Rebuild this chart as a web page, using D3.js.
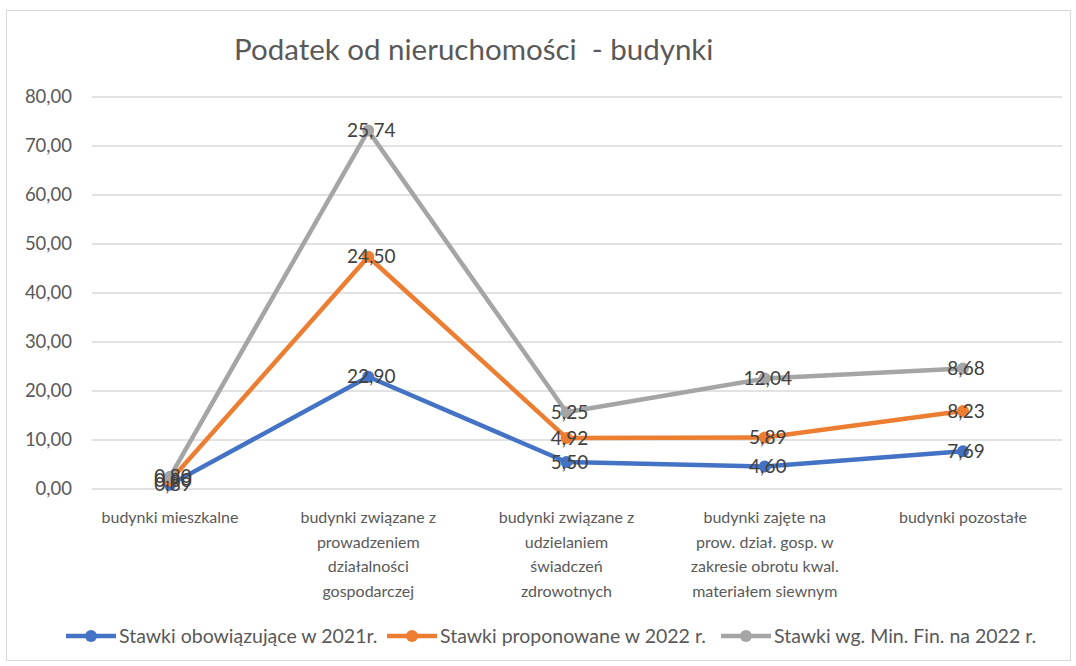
<!DOCTYPE html>
<html>
<head>
<meta charset="utf-8">
<script src="https://cdn.jsdelivr.net/npm/d3@7"></script>
<style>
  body { margin: 0; background: #fff; }
  svg { font-family: Lato, "Open Sans", sans-serif; }
</style>
</head>
<body>
<div id="chart"></div>
<script>
// dane
var categories = [
  ["budynki mieszkalne"],
  ["budynki związane z", "prowadzeniem", "działalności", "gospodarczej"],
  ["budynki związane z", "udzielaniem", "świadczeń", "zdrowotnych"],
  ["budynki zajęte na", "prow. dział. gosp. w", "zakresie obrotu kwal.", "materiałem siewnym"],
  ["budynki pozostałe"]
];
var seriesNames = ["Stawki obowiązujące w 2021r.", "Stawki proponowane w 2022 r.", "Stawki wg. Min. Fin. na 2022 r."];
var rates2021 = [0.89, 22.90, 5.50, 4.60, 7.69];
var rates2022 = [0.80, 24.50, 4.92, 5.89, 8.23];
var ratesMinFin = [0.80, 25.74, 5.25, 12.04, 8.68];
var yTicks = [0, 10, 20, 30, 40, 50, 60, 70, 80];
var colors = ["#4472C4", "#ED7D31", "#A5A5A5"];

var W = 1076, H = 666;
var svg = d3.select("#chart").append("svg")
  .attr("width", W)
  .attr("height", H);

// chart frame
svg.append("rect")
  .attr("x", 6.5).attr("y", 10.5)
  .attr("width", 1064).attr("height", 650)
  .attr("fill", "#fff")
  .attr("stroke", "#d9d9d9");

svg.append("text")
  .attr("x", 234).attr("y", 60)
  .attr("font-size", 29.5)
  .attr("fill", "#595959")
  .style("white-space", "pre")
  .text("Podatek od nieruchomości  - budynki");

var x = d3.scalePoint()
  .domain(d3.range(categories.length))
  .range([170, 963]);

var y = d3.scaleLinear().domain([0, 80]).range([489, 97]);

var fmt = function (v) { return v.toFixed(2).replace(".", ","); };

// gridlines + y labels
svg.append("g").selectAll("line")
  .data(yTicks)
  .enter()
  .append("line")
  .attr("x1", 92).attr("x2", 1062)
  .attr("y1", function (d) { return y(d); })
  .attr("y2", function (d) { return y(d); })
  .attr("stroke", "#d9d9d9")
  .attr("stroke-width", 1.3);

svg.append("g").selectAll("text")
  .data(yTicks)
  .enter()
  .append("text")
  .attr("x", 72)
  .attr("y", function (d) { return y(d); })
  .attr("dy", "0.35em")
  .attr("text-anchor", "end")
  .attr("font-size", 18.5)
  .attr("fill", "#595959")
  .text(fmt);

// category labels
var cat = svg.append("g").selectAll("text")
  .data(categories)
  .enter()
  .append("text")
  .attr("x", function (d, i) { return x(i); })
  .attr("y", 523)
  .attr("text-anchor", "middle")
  .attr("font-size", 16)
  .attr("fill", "#595959");
cat.selectAll("tspan")
  .data(function (d) { return d; })
  .enter()
  .append("tspan")
  .attr("x", function () { return this.parentNode.getAttribute("x"); })
  .attr("dy", function (d, i) { return i === 0 ? 0 : 24.6; })
  .text(function (d) { return d; });

// stacked lines
var series = [rates2021, rates2022, ratesMinFin];
var stacked = [];
series.forEach(function (s, k) {
  stacked.push(s.map(function (v, i) {
    var base = k === 0 ? 0 : stacked[k - 1][i];
    return base + v;
  }));
});

var line = d3.line()
  .x(function (d, i) { return x(i); })
  .y(function (d) { return y(d); });

stacked.forEach(function (s, k) {
  svg.append("path")
    .datum(s)
    .attr("d", line)
    .attr("fill", "none")
    .attr("stroke", colors[k])
    .attr("stroke-width", 4.5)
    .attr("stroke-linejoin", "round")
    .attr("stroke-linecap", "round");
  svg.append("g").selectAll("circle")
    .data(s)
    .enter()
    .append("circle")
    .attr("cx", function (d, i) { return x(i); })
    .attr("cy", function (d) { return y(d); })
    .attr("r", 6)
    .attr("fill", colors[k]);
});

stacked.forEach(function (s, k) {
  svg.append("g").selectAll("text")
    .data(s)
    .enter()
    .append("text")
    .attr("x", function (d, i) { return x(i) + 3; })
    .attr("y", function (d) { return y(d); })
    .attr("dy", "0.35em")
    .attr("text-anchor", "middle")
    .attr("font-size", 19)
    .attr("fill", "#404040")
    .text(function (d, i) { return fmt(series[k][i]); });
});

// legend
var legendX = [66, 387, 721];
var leg = svg.append("g").selectAll("g")
  .data(seriesNames)
  .enter()
  .append("g")
  .attr("transform", function (d, i) { return "translate(" + legendX[i] + ",636)"; });
leg.append("line")
  .attr("x1", 0).attr("x2", 50)
  .attr("stroke", function (d, i) { return colors[i]; })
  .attr("stroke-width", 4.5);
leg.append("circle")
  .attr("cx", 25).attr("r", 6)
  .attr("fill", function (d, i) { return colors[i]; });
leg.append("text")
  .attr("x", 53)
  .attr("dy", "0.35em")
  .attr("font-size", 19.5)
  .attr("fill", "#595959")
  .text(function (d) { return d; });
</script>
</body>
</html>
